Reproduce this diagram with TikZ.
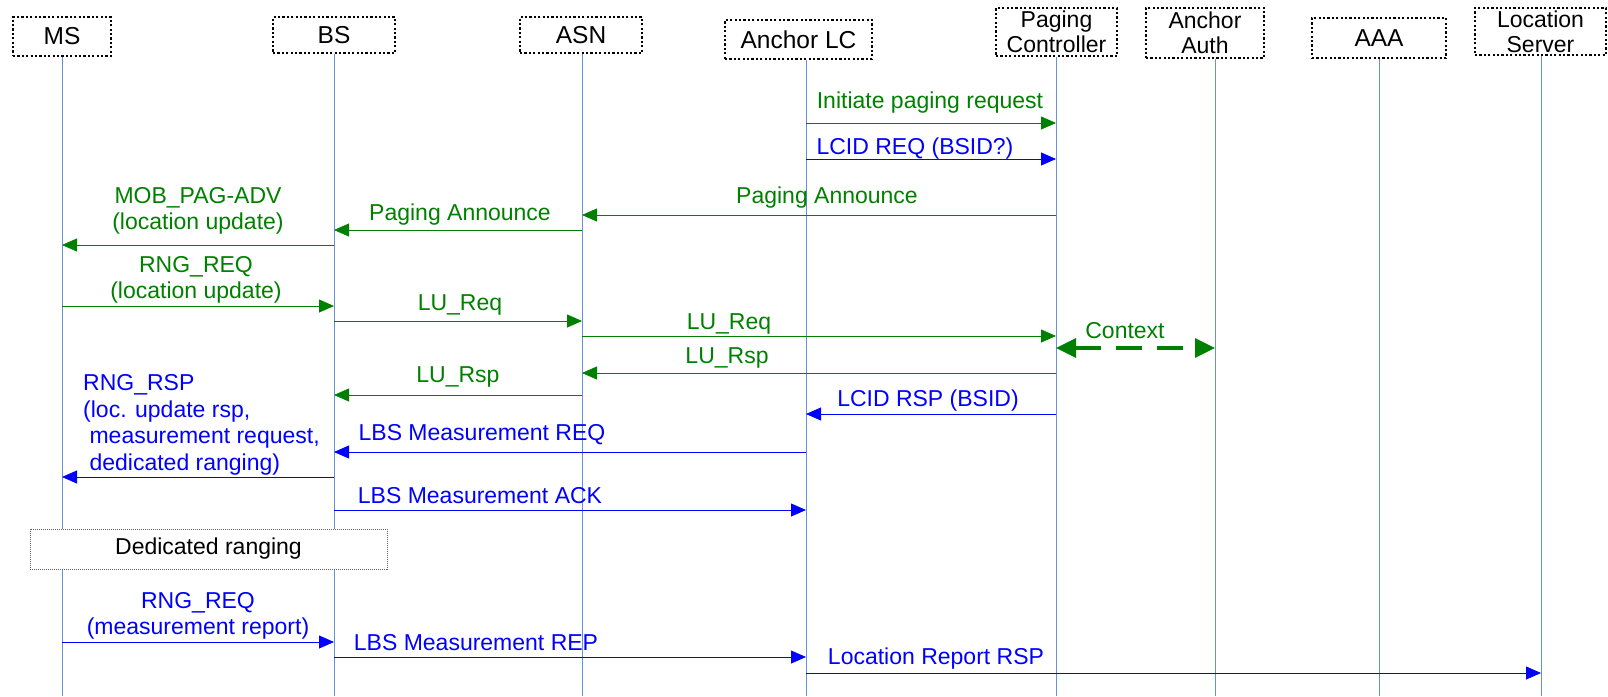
\documentclass[tikz,border=0pt]{standalone}
\usepackage{fontspec}
\setmainfont{Liberation Sans}
\usetikzlibrary{arrows.meta}
\definecolor{msggreen}{RGB}{0,128,0}
\definecolor{msgblue}{RGB}{0,0,255}
\definecolor{lifeblue}{RGB}{100,145,215}
\begin{document}
\begin{tikzpicture}[x=1pt,y=-1pt,
  every node/.style={font=\fontsize{23}{26.5}\selectfont},
  actor/.style={draw=black, dash pattern=on 2.2pt off 2.2pt, line width=1.8pt, inner sep=0pt, align=center, fill=white, font=\fontsize{24.5}{25}\selectfont},
  actortwo/.style={actor, font=\fontsize{23}{25}\selectfont},
  lifeline/.style={draw=lifeblue, line width=0.8pt},
  garrow/.style={draw=msggreen, line width=0.8pt, -{Triangle[length=15pt,width=13pt]}, msggreen},
  barrow/.style={draw=msgblue, line width=0.8pt, -{Triangle[length=15pt,width=13pt]}, msgblue},
  glabel/.style={text=msggreen, inner sep=0pt, align=center},
  blabel/.style={text=msgblue, inner sep=0pt, align=center},
  ctxarrow/.style={draw=msggreen, line width=3.2pt, dash pattern=on 26pt off 15pt, {Triangle[length=20pt,width=19pt]}-{Triangle[length=20pt,width=19pt]}},
  notebox/.style={draw=black!60, densely dotted, line width=1pt, fill=white, inner sep=0pt}
]
\useasboundingbox (0,0) rectangle (1608,696);
% actors
\node[actor, minimum width=98pt, minimum height=39pt] (ms) at (62,36.5) {MS};
\node[actor, minimum width=122pt, minimum height=36pt] (bs) at (334,35) {BS};
\node[actor, minimum width=122pt, minimum height=36pt] (asn) at (581,35) {ASN};
\node[actor, minimum width=147pt, minimum height=39pt] (lc) at (798.5,39.5) {Anchor LC};
\node[actortwo, minimum width=121pt, minimum height=48pt] (pc) at (1056.5,32) {Paging\\Controller};
\node[actortwo, minimum width=118pt, minimum height=50pt] (aa) at (1205,33) {Anchor\\Auth};
\node[actor, minimum width=134pt, minimum height=40pt] (aaa) at (1379,38) {AAA};
\node[actortwo, minimum width=131pt, minimum height=47pt] (ls) at (1540.5,31.5) {Location\\Server};
% lifeline ends
\coordinate (msB) at (62,696);
\coordinate (bsB) at (334,696);
\coordinate (asnB) at (582,696);
\coordinate (lcB) at (806,696);
\coordinate (pcB) at (1056,696);
\coordinate (aaB) at (1215,696);
\coordinate (aaaB) at (1379,696);
\coordinate (lsB) at (1541,696);
\draw[lifeline] (ms.south -| msB) -- (msB);
\draw[lifeline] (bs.south -| bsB) -- (bsB);
\draw[lifeline] (asn.south -| asnB) -- (asnB);
\draw[lifeline] (lc.south -| lcB) -- (lcB);
\draw[lifeline] (pc.south -| pcB) -- (pcB);
\draw[lifeline] (aa.south -| aaB) -- (aaB);
\draw[lifeline] (aaa.south -| aaaB) -- (aaaB);
\draw[lifeline] (ls.south -| lsB) -- (lsB);
% messages
\draw[garrow] (lcB |- 0,123) -- (pcB |- 0,123);
\node[glabel] (m1) at (930,103) {Initiate paging request};
\draw[barrow] (lcB |- 0,159) -- (pcB |- 0,159);
\node[blabel] (m2) at (915,149) {LCID REQ (BSID?)};
\draw[garrow] (pcB |- 0,215) -- (asnB |- 0,215);
\node[glabel] (m3) at (827,198) {Paging Announce};
\draw[garrow] (asnB |- 0,230) -- (bsB |- 0,230);
\node[glabel] (m4) at (460,215) {Paging Announce};
\draw[garrow] (bsB |- 0,245) -- (msB |- 0,245);
\node[glabel] (m5) at (198,211) {MOB\_PAG-ADV\\(location update)};
\draw[garrow] (msB |- 0,306) -- (bsB |- 0,306);
\node[glabel] (m6) at (196,280) {RNG\_REQ\\(location update)};
\draw[garrow] (bsB |- 0,321) -- (asnB |- 0,321);
\node[glabel] (m7) at (460,305) {LU\_Req};
\draw[garrow] (asnB |- 0,336) -- (pcB |- 0,336);
\node[glabel] (m8) at (729,324) {LU\_Req};
\draw[ctxarrow] (pcB |- 0,348) -- (aaB |- 0,348);
\node[glabel] (m9) at (1125,331) {Context};
\draw[garrow] (pcB |- 0,373) -- (asnB |- 0,373);
\node[glabel] (m10) at (727,358) {LU\_Rsp};
\draw[garrow] (asnB |- 0,395) -- (bsB |- 0,395);
\node[glabel] (m11) at (458,377) {LU\_Rsp};
\draw[barrow] (pcB |- 0,414) -- (lcB |- 0,414);
\node[blabel] (m12) at (928,401) {LCID RSP (BSID)};
\draw[barrow] (lcB |- 0,452) -- (bsB |- 0,452);
\node[blabel] (m13) at (482,435) {LBS Measurement REQ};
\draw[barrow] (bsB |- 0,477) -- (msB |- 0,477);
\node[blabel, align=left, anchor=west] (m14) at (83,425) {RNG\_RSP\\(loc. update rsp,\\\ measurement request,\\\ dedicated ranging)};
\draw[barrow] (bsB |- 0,510) -- (lcB |- 0,510);
\node[blabel] (m15) at (480,496) {LBS Measurement ACK};
\node[notebox, minimum width=357pt, minimum height=40pt] (dr) at (208.5,549) {Dedicated ranging};
\draw[barrow] (msB |- 0,642) -- (bsB |- 0,642);
\node[blabel] (m17) at (198,616) {RNG\_REQ\\(measurement report)};
\draw[barrow] (bsB |- 0,657) -- (lcB |- 0,657);
\node[blabel] (m18) at (476,643) {LBS Measurement REP};
\draw[barrow] (lcB |- 0,673) -- (lsB |- 0,673);
\node[blabel] (m19) at (936,659) {Location Report RSP};
\end{tikzpicture}
\end{document}
